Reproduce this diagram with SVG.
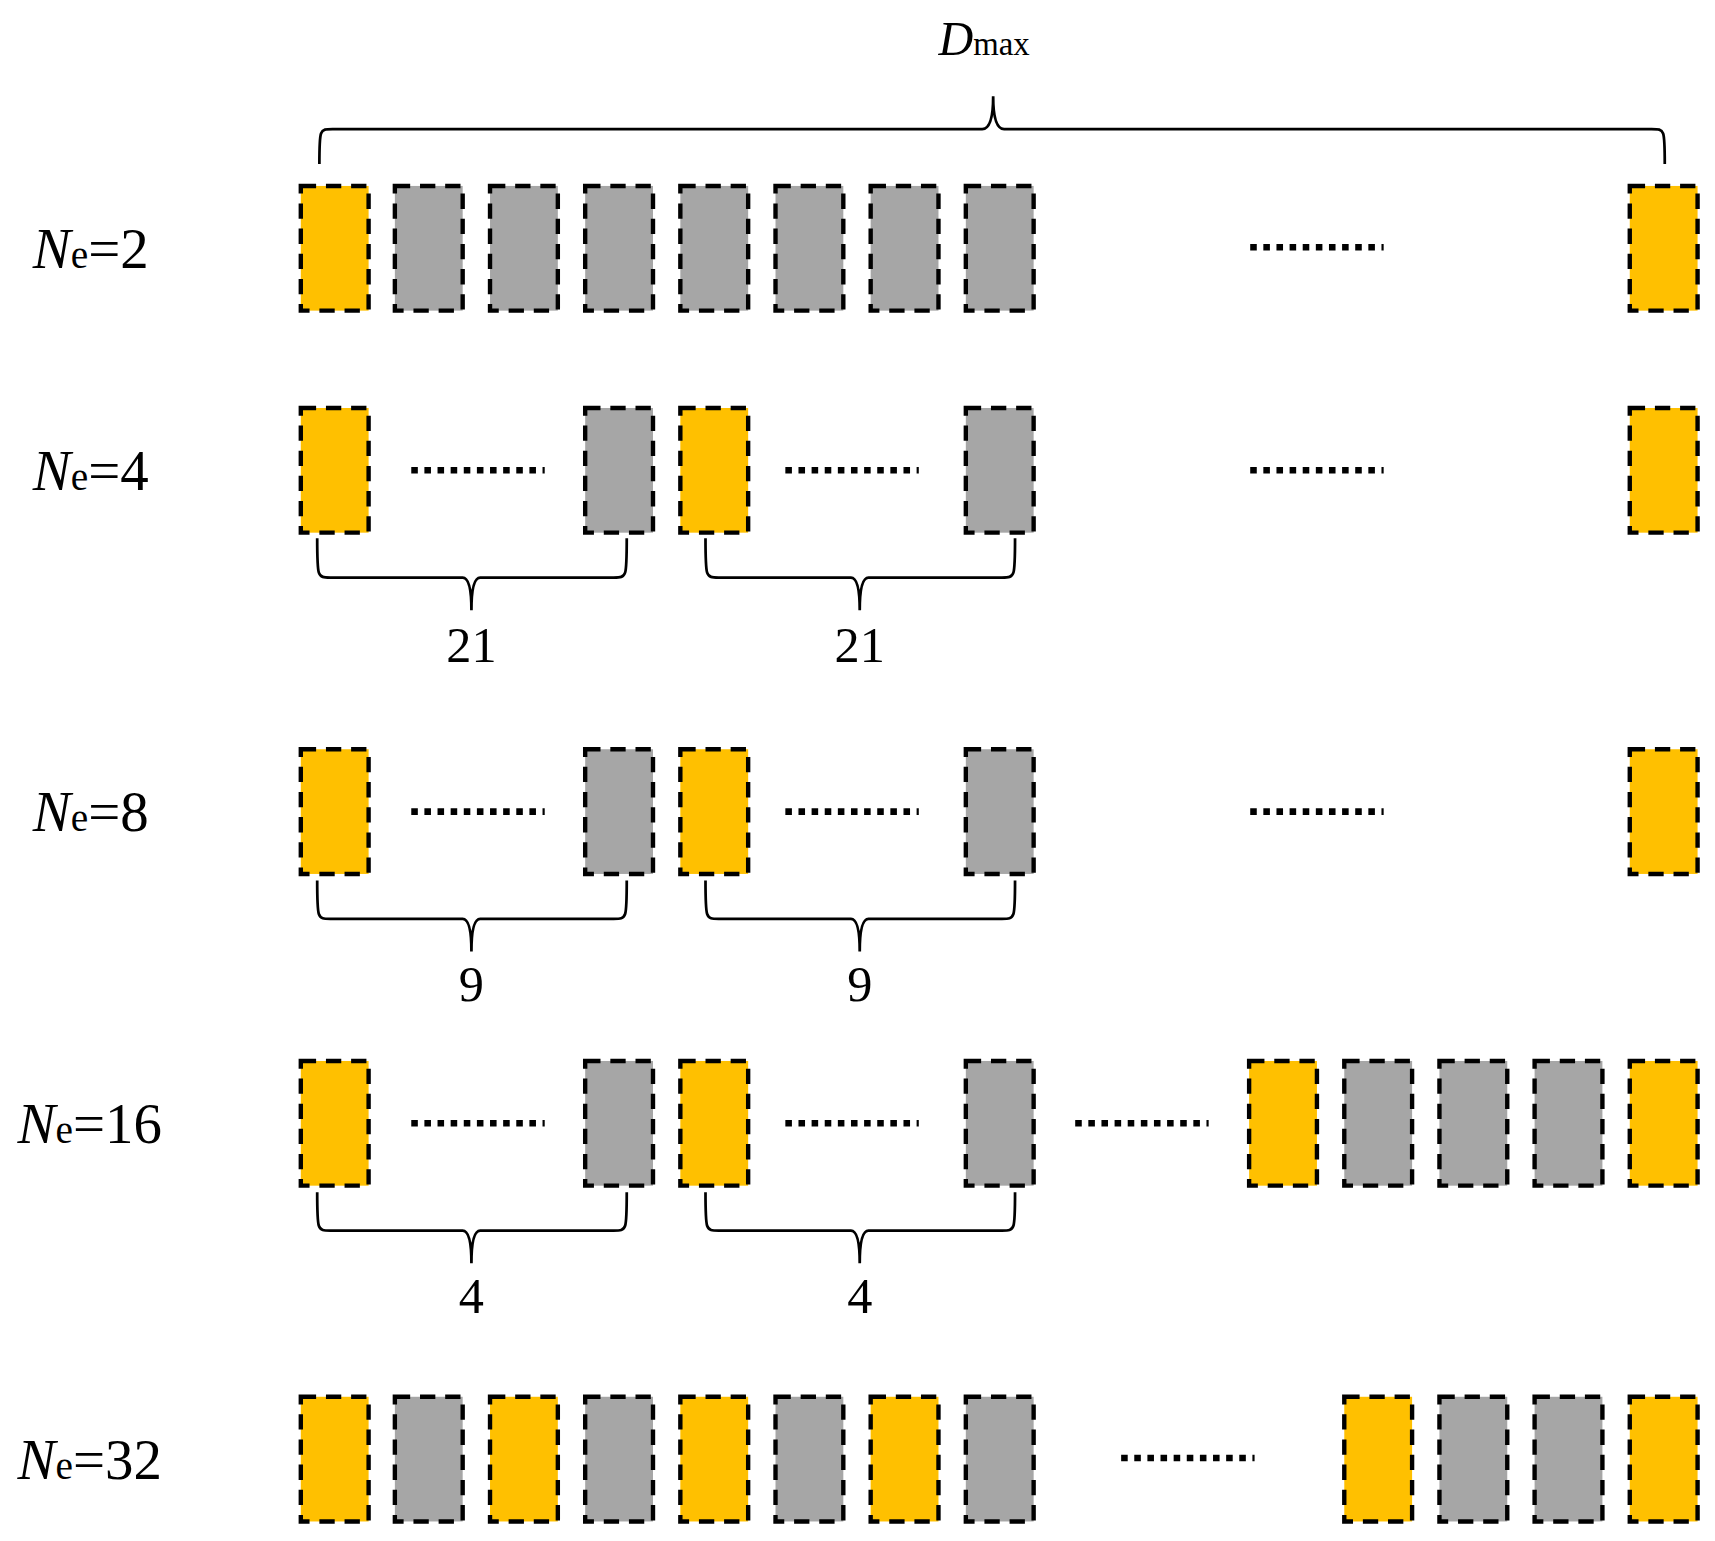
<svg xmlns="http://www.w3.org/2000/svg" width="1715" height="1541" viewBox="0 0 1715 1541">
<style>
.y{fill:#FFC000}.g{fill:#A6A6A6}
rect{stroke:#000;stroke-width:4;stroke-dasharray:14 9}
.d{stroke:#000;stroke-width:6;stroke-dasharray:6 6}
.br{fill:none;stroke:#000;stroke-width:2.5}
text{font-family:"Liberation Serif",serif;fill:#000}
.lab{font-size:52px}.num{font-size:46px;text-anchor:middle}
.s{font-size:36px;font-style:normal}
</style>
<defs>
<rect id="Y" class="y" width="62" height="114"/>
<rect id="G" class="g" width="62" height="114"/>
</defs>
<rect width="1715" height="1541" fill="#fff" style="stroke:none"/>
<g transform="scale(1.0938)">
<g id="labels">
<text x="858" y="50" font-size="44"><tspan font-style="italic">D</tspan><tspan font-size="30">max</tspan></text>
<text class="lab" x="30" y="245"><tspan font-style="italic">N</tspan><tspan class="s">e</tspan>=2</text>
<text class="lab" x="30" y="448"><tspan font-style="italic">N</tspan><tspan class="s">e</tspan>=4</text>
<text class="lab" x="30" y="760"><tspan font-style="italic">N</tspan><tspan class="s">e</tspan>=8</text>
<text class="lab" x="16" y="1045"><tspan font-style="italic">N</tspan><tspan class="s">e</tspan>=16</text>
<text class="lab" x="16" y="1352"><tspan font-style="italic">N</tspan><tspan class="s">e</tspan>=32</text>
<text class="num" x="431" y="605">21</text><text class="num" x="786" y="605">21</text>
<text class="num" x="431" y="915">9</text><text class="num" x="786" y="915">9</text>
<text class="num" x="431" y="1200">4</text><text class="num" x="786" y="1200">4</text>
</g>
<g id="row2">
<use href="#Y" x="275" y="170"/><use href="#G" x="361" y="170"/><use href="#G" x="448" y="170"/><use href="#G" x="535" y="170"/><use href="#G" x="622" y="170"/><use href="#G" x="709" y="170"/><use href="#G" x="796" y="170"/><use href="#G" x="883" y="170"/><use href="#Y" x="1490" y="170"/>
<line class="d" x1="1143" y1="226" x2="1265" y2="226"/>
</g>
<g id="row4">
<use href="#Y" x="275" y="373"/><use href="#G" x="535" y="373"/><use href="#Y" x="622" y="373"/><use href="#G" x="883" y="373"/><use href="#Y" x="1490" y="373"/>
<line class="d" x1="376" y1="430" x2="498" y2="430"/><line class="d" x1="718" y1="430" x2="840" y2="430"/><line class="d" x1="1143" y1="430" x2="1265" y2="430"/>
</g>
<g id="row8">
<use href="#Y" x="275" y="685"/><use href="#G" x="535" y="685"/><use href="#Y" x="622" y="685"/><use href="#G" x="883" y="685"/><use href="#Y" x="1490" y="685"/>
<line class="d" x1="376" y1="742" x2="498" y2="742"/><line class="d" x1="718" y1="742" x2="840" y2="742"/><line class="d" x1="1143" y1="742" x2="1265" y2="742"/>
</g>
<g id="row16">
<use href="#Y" x="275" y="970"/><use href="#G" x="535" y="970"/><use href="#Y" x="622" y="970"/><use href="#G" x="883" y="970"/>
<use href="#Y" x="1142" y="970"/><use href="#G" x="1229" y="970"/><use href="#G" x="1316" y="970"/><use href="#G" x="1403" y="970"/><use href="#Y" x="1490" y="970"/>
<line class="d" x1="376" y1="1027" x2="498" y2="1027"/><line class="d" x1="718" y1="1027" x2="840" y2="1027"/><line class="d" x1="983" y1="1027" x2="1105" y2="1027"/>
</g>
<g id="row32">
<use href="#Y" x="275" y="1277"/><use href="#G" x="361" y="1277"/><use href="#Y" x="448" y="1277"/><use href="#G" x="535" y="1277"/><use href="#Y" x="622" y="1277"/><use href="#G" x="709" y="1277"/><use href="#Y" x="796" y="1277"/><use href="#G" x="883" y="1277"/>
<use href="#Y" x="1229" y="1277"/><use href="#G" x="1316" y="1277"/><use href="#G" x="1403" y="1277"/><use href="#Y" x="1490" y="1277"/>
<line class="d" x1="1025" y1="1333" x2="1147" y2="1333"/>
</g>
<g id="connectors">
<path class="br" d="M292 150 C292 118 292 118 304 118 L898 118 Q908 118 908 88 Q908 118 918 118 L1510 118 C1522 118 1522 118 1522 150"/>
<path class="br" d="M290 492 C290 528 290 528 302 528 L423 528 Q431 528 431 558 Q431 528 439 528 L561 528 C573 528 573 528 573 492"/>
<path class="br" d="M645 492 C645 528 645 528 657 528 L778 528 Q786 528 786 558 Q786 528 794 528 L916 528 C928 528 928 528 928 492"/>
<path class="br" d="M290 805 C290 840 290 840 302 840 L423 840 Q431 840 431 870 Q431 840 439 840 L561 840 C573 840 573 840 573 805"/>
<path class="br" d="M645 805 C645 840 645 840 657 840 L778 840 Q786 840 786 870 Q786 840 794 840 L916 840 C928 840 928 840 928 805"/>
<path class="br" d="M290 1090 C290 1125 290 1125 302 1125 L423 1125 Q431 1125 431 1155 Q431 1125 439 1125 L561 1125 C573 1125 573 1125 573 1090"/>
<path class="br" d="M645 1090 C645 1125 645 1125 657 1125 L778 1125 Q786 1125 786 1155 Q786 1125 794 1125 L916 1125 C928 1125 928 1125 928 1090"/>
</g>
</g>
</svg>
